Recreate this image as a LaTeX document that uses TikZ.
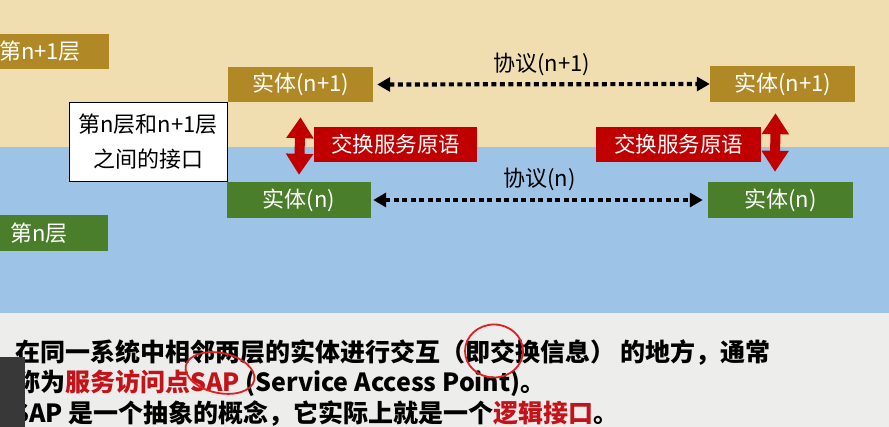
\documentclass[tikz,border=0pt]{standalone}
\usepackage{fontspec}
\setmainfont{Noto Sans CJK SC}
\usepackage{tikz}
\usetikzlibrary{arrows.meta,positioning}
\usepackage{xcolor}
\definecolor{layTan}{HTML}{F1DEB0}
\definecolor{layBlue}{HTML}{9DC3E6}
\definecolor{layGray}{HTML}{EDEDEB}
\definecolor{layGold}{HTML}{B08926}
\definecolor{layGreen}{HTML}{4A7E2B}
\definecolor{primRed}{HTML}{C00000}
\definecolor{markRed}{HTML}{E02020}
\definecolor{txtRed}{HTML}{C41218}
\tikzset{
    upperbox/.style={rectangle, fill=layGold, text=white, inner sep=0pt, minimum width=145pt, minimum height=35pt, font=\fontsize{22}{24}\selectfont},
    lowerbox/.style={rectangle, fill=layGreen, text=white, inner sep=0pt, minimum width=145pt, minimum height=36pt, font=\fontsize{22}{24}\selectfont},
    primbox/.style={rectangle, fill=primRed, text=white, inner sep=0pt, minimum width=164pt, minimum height=35pt, font=\fontsize{21.5}{24}\selectfont},
    protoarrow/.style={line width=4.2pt, dash pattern=on 5pt off 3.5pt, {Triangle[length=13pt,width=14pt]}-{Triangle[length=13pt,width=14pt]}},
    primarrow/.style={draw=primRed, line width=10pt, {Triangle[length=21pt,width=26pt]}-{Triangle[length=21pt,width=26pt]}},
    bodytext/.style={anchor=west, inner sep=0pt, font=\fontsize{25}{30}\selectfont\bfseries}
}

\begin{document}
\begin{tikzpicture}[x=1pt, y=-1pt]

    % Backgrounds of the two layers
    \useasboundingbox (0,0) rectangle (889,427);
    \fill[layTan] (0,0) rectangle (889,147);
    \fill[layBlue] (0,147) rectangle (889,313);
    \fill[layGray] (0,313) rectangle (889,427);

    % Layer names
    \node[upperbox, minimum width=138pt] (layup) at (40,51.5) {第n+1层};
    \node[lowerbox, minimum width=138pt] (laylow) at (39,233) {第n层};

    % Interface box
    \node[draw=black, thick, fill=white, minimum width=158pt, minimum height=79pt, inner sep=0pt, align=center, font=\fontsize{22}{35}\selectfont] (iface) at (148,141.5) {第n层和n+1层\\之间的接口};

    % Entities
    \node[upperbox] (eupL) at (300.5,84.5) {实体(n+1)};
    \node[upperbox, minimum height=36pt] (eupR) at (782.5,84) {实体(n+1)};
    \node[lowerbox, minimum width=144pt] (elowL) at (299,200) {实体(n)};
    \node[lowerbox] (elowR) at (780.5,200) {实体(n)};

    % Service primitives
    \node[primbox, minimum width=163pt] (primL) at (395.5,144.5) {交换服务原语};
    \node[primbox, minimum width=165pt] (primR) at (678.5,144.5) {交换服务原语};

    % Protocols between peer entities
    \draw[protoarrow, shorten <=4pt] (eupL.east) -- (eupR.west) node[midway, above=3pt, font=\fontsize{22}{24}\selectfont] (protoup) {协议(n+1)};
    \draw[protoarrow, shorten <=2pt, shorten >=5pt] (elowL.east) -- (elowR.west) node[midway, above=4pt, font=\fontsize{22}{24}\selectfont] (protolow) {协议(n)};

    % Primitive arrows
    \draw[primarrow] ([yshift=-15pt]eupL.south) -- ([yshift=7pt]elowL.north);
    \draw[primarrow] ([xshift=-7pt, yshift=-11pt]eupR.south) -- ([xshift=-5.5pt, yshift=10pt]elowR.north);

    % Explanation text
    \node[bodytext] (lineA) at (15,353) {在同一系统中相邻两层的实体进行交互（即交换信息） 的地方，通常};
    \node[bodytext] (lineB) at (15,383) {称为\textcolor{txtRed}{服务访问点SAP} (Service Access Point)。};
    \node[bodytext] (lineC) at (13,414) {SAP 是一个抽象的概念，它实际上就是一个\textcolor{txtRed}{逻辑接口}。};

    % Hand marks
    \draw[markRed, line width=1.8pt, rotate around={-12:(220,373)}] (220,373) ellipse (35 and 20);
    \draw[markRed, line width=1.8pt] (494,351) ellipse (29 and 26.5);

    % Dark overlay at the corner
    \fill[black!78] (0,357) rectangle (25,427);

\end{tikzpicture}
\end{document}
